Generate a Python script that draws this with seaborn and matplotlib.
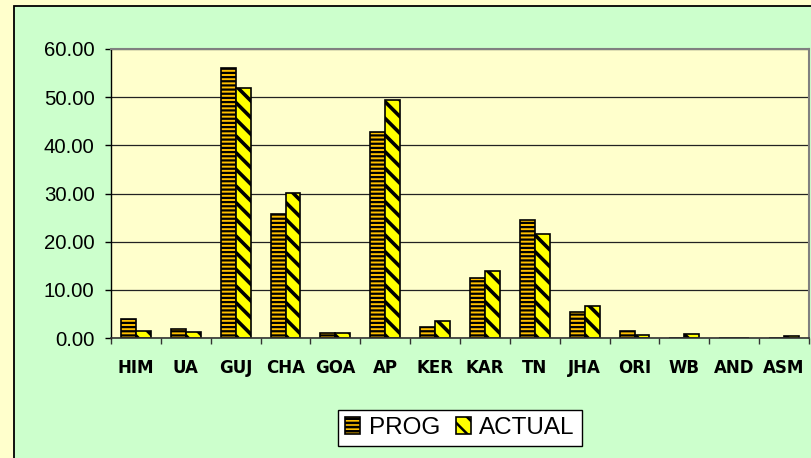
import numpy as np
import pandas as pd
import matplotlib
matplotlib.use("Agg")
import matplotlib.pyplot as plt
from matplotlib.patches import Rectangle, Patch
import seaborn as sns

plt.rcParams['font.family'] = ['Liberation Sans', 'DejaVu Sans']
plt.rcParams['hatch.linewidth'] = 1.8

states = ["HIM", "UA", "GUJ", "CHA", "GOA", "AP", "KER", "KAR", "TN", "JHA", "ORI", "WB", "AND", "ASM"]
prog = [3.85, 1.85, 56.0, 25.7, 0.95, 42.8, 2.3, 12.5, 24.4, 5.5, 1.4, 0.0, 0.0, 0.0]
actual = [1.5, 1.3, 52.0, 30.15, 1.1, 49.45, 3.6, 13.85, 21.65, 6.7, 0.7, 0.9, 0.0, 0.4]
series = ["PROG", "ACTUAL"]
colors = ["#FFC000", "#FFFF00"]
hatches = ["----", "\\\\"]
hatch_lw = [1.6, 2.6]
yticks = [0, 10, 20, 30, 40, 50, 60]

df = pd.DataFrame({
    "state": states * 2,
    "value": prog + actual,
    "series": [series[0]] * len(states) + [series[1]] * len(states),
})

W, H = 811, 458
fig = plt.figure(figsize=(W / 100, H / 100), dpi=100)
fig.patch.set_facecolor("#FFFFCC")

# chart area box (green), cut off at right and bottom
fig.add_artist(Rectangle((14 / W, -0.1), 1.2, 1 - 6 / H + 0.1, transform=fig.transFigure,
                         facecolor="#CCFFCC", edgecolor="black", linewidth=1.3, zorder=0))

ax = fig.add_axes([111 / W, 120 / H, 698 / W, 289 / H])
ax.set_facecolor("#FFFFCC")

sns.barplot(data=df, x="state", y="value", hue="series", order=states, hue_order=series,
            palette=colors, width=0.6, saturation=1, edgecolor="black", linewidth=1.2,
            legend=False, ax=ax, gap=0, errorbar=None)


def style_patch(p, h, lw):
    p.set_hatch(h)
    p.set_edgecolor("black")
    if hasattr(p, "set_hatch_linewidth"):
        try:
            p.set_hatch_linewidth(lw)
        except Exception:
            pass


for cont, h, lw in zip(ax.containers, hatches, hatch_lw):
    for bar in cont:
        style_patch(bar, h, lw)

ax.set_xlim(-0.5, len(states) - 0.5)
ax.set_ylim(0, 60)
ax.set_yticks(yticks)
ax.set_yticklabels([f"{v:.2f}" for v in yticks], fontsize=14.7)
ax.tick_params(axis="y", direction="out", length=4.3, width=1, pad=7.5, colors="black")

ax.set_xticks(np.arange(-0.5, len(states), 1))
ax.set_xticklabels([])
ax.set_xticks(np.arange(len(states)), minor=True)
ax.set_xticklabels(states, minor=True, fontsize=12, fontweight="heavy", family="DejaVu Sans")
ax.tick_params(axis="x", which="major", direction="out", length=4, width=1, color="#333333")
ax.tick_params(axis="x", which="minor", length=0, pad=15)
ax.set_xlabel("")
ax.set_ylabel("")

ax.yaxis.grid(True, color="#222222", linewidth=0.9)
ax.xaxis.grid(False)
ax.set_axisbelow(True)
for s in ["top", "right"]:
    ax.spines[s].set_color("#808080")
    ax.spines[s].set_linewidth(1.5)
ax.spines["left"].set_color("black")
ax.spines["left"].set_linewidth(1)
ax.spines["bottom"].set_color("#333333")
ax.spines["bottom"].set_linewidth(1.2)

handles = []
for c, h, lw, s in zip(colors, hatches, hatch_lw, series):
    p = Patch(facecolor=c, edgecolor="black", linewidth=1.2, label=s)
    style_patch(p, h, lw)
    handles.append(p)
leg = fig.legend(handles=handles, loc="center", bbox_to_anchor=(460 / W, 1 - 428 / H),
                 bbox_transform=fig.transFigure, ncol=2, fontsize=17.5, frameon=True,
                 fancybox=False, edgecolor="black", facecolor="white", framealpha=1,
                 handlelength=0.62, handleheight=0.68, handletextpad=0.35,
                 columnspacing=0.65, borderpad=0.3, borderaxespad=0)
leg.get_frame().set_linewidth(1)

fig.savefig("out.png", dpi=100, facecolor=fig.get_facecolor())
